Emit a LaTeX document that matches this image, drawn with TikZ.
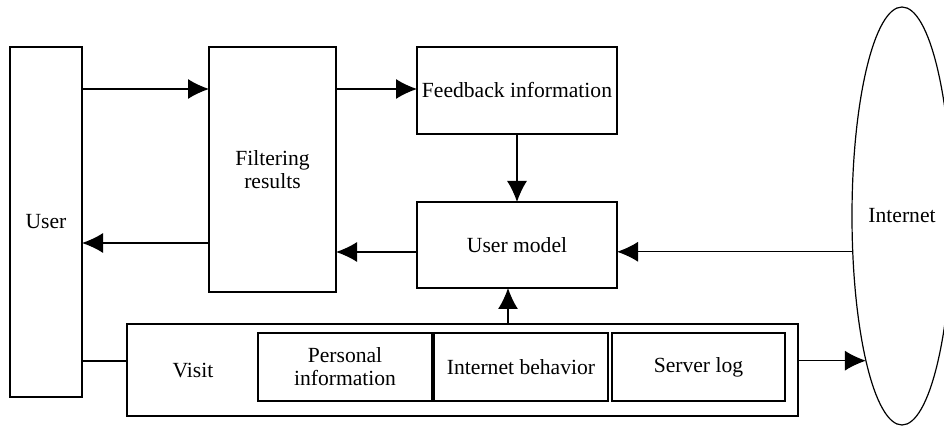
\documentclass[tikz,border=0pt]{standalone}
\usepackage{fontspec}
\setmainfont{Liberation Serif}
\usetikzlibrary{arrows.meta,shapes.geometric}
\begin{document}
\begin{tikzpicture}[x=0.5pt,y=-0.5pt,
  font=\fontsize{10.8}{11.6}\selectfont,
  every node/.style={inner sep=0pt,outer sep=0pt,align=center},
  box/.style={draw,line width=0.6pt,rectangle},
  conn/.style={line width=0.6pt},
  arr/.style={conn,-{Latex[length=10.5pt,width=10pt]}}]
\useasboundingbox (0,0) rectangle (944,427);
\node[box,minimum width=36pt,minimum height=175pt] (user) at (46,222) {User};
\node[box,minimum width=63.5pt,minimum height=122.5pt] (filt) at (272.5,169.5) {Filtering\\results};
\node[box,minimum width=100pt,minimum height=43.5pt] (feed) at (517,90.5) {Feedback information};
\node[box,minimum width=100pt,minimum height=43pt] (umodel) at (517,245) {User model};
\node[box,minimum width=335.5pt,minimum height=46pt] (visit) at (462.5,370) {};
\node (visittxt) at (193,371) {Visit};
\node[box,minimum width=87pt,minimum height=34pt] (pers) at (345,367) {Personal\\information};
\node[box,minimum width=87pt,minimum height=34pt] (behav) at (521,367) {Internet behavior};
\node[box,minimum width=86.5pt,minimum height=34pt] (slog) at (698.5,367) {Server log};
\node[draw,line width=0.6pt,ellipse,minimum width=50pt,minimum height=209pt] (inet) at (902,216) {Internet};
\coordinate (ya) at (0,89);
\coordinate (yb) at (0,243);
\coordinate (yc) at (0,252);
\coordinate (yd) at (0,361);
\coordinate (xa) at (508,0);
\draw[arr] (user.east |- ya) -- (filt.west |- ya);
\draw[arr] (filt.west |- yb) -- (user.east |- yb);
\draw[arr] (filt.east |- ya) -- (feed.west |- ya);
\draw[arr] (feed.south) -- (umodel.north);
\draw[arr] (umodel.west |- yc) -- (filt.east |- yc);
\draw[arr] (inet.216) -- (umodel.east |- inet.216);
\draw[arr] (visit.north -| xa) -- (umodel.south -| xa);
\draw[conn] (user.east |- yd) -- (visit.west |- yd);
\draw[arr] (visit.east |- inet.256) -- (inet.256);
\end{tikzpicture}
\end{document}
